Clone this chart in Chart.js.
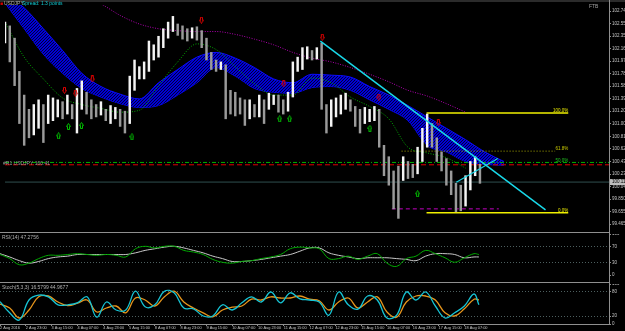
<!DOCTYPE html>
<html>
<head>
<meta charset="utf-8">
<title>USDJPY H1</title>
<script src="https://cdn.jsdelivr.net/npm/chart.js@4.4.1/dist/chart.umd.min.js"></script>
<style>
  body { margin: 0; background: #000; overflow: hidden; }
  #tela { position: relative; width: 625px; height: 331px; background: #000; }
  canvas { position: absolute; left: 0; }
  .linha { position: absolute; background: #8f8f8f; }
</style>
</head>
<body>
<div id="tela">
  <canvas id="main" width="625" height="232" style="top:0"></canvas>
  <canvas id="rsi" width="625" height="48" style="top:234px"></canvas>
  <canvas id="stoch" width="625" height="47" style="top:284px"></canvas>
  <div class="linha" style="left:0;top:232px;width:609px;height:1px"></div>
  <div class="linha" style="left:0;top:282px;width:609px;height:1px"></div>
  <div class="linha" style="left:609px;top:0;width:1px;height:325px"></div>
</div>
<script>
// eixos
var rotulosTempo = ["2 Aug 2016","2 Aug 23:00","3 Aug 15:00","4 Aug 07:00","4 Aug 23:00","5 Aug 15:00",
  "8 Aug 07:00","8 Aug 23:00","9 Aug 15:00","10 Aug 07:00","10 Aug 23:00","11 Aug 15:00",
  "12 Aug 07:00","12 Aug 23:00","15 Aug 15:00","16 Aug 07:00","16 Aug 23:00","17 Aug 15:00","18 Aug 07:00"];
var horaRotulos = [0,16,32,48,64,80,96,112,128,144,160,176,192,208,224,240,256,272,288];
var precosEixo = [99.465,99.655,99.850,100.040,100.235,100.430,100.620,100.815,101.005,101.200,
  101.390,101.585,101.780,101.970,102.165,102.355,102.550,102.740];
var niveisRsi = [0,30,70,100];
var niveisStoch = [0,20,80,100];

// barras de 3h (maxima / minima)
var maximas = [102.571,102.513,102.324,101.813,101.449,101.230,101.303,101.376,101.303,101.449,
 101.405,101.376,101.347,101.449,101.303,101.551,101.667,101.492,101.376,101.303,
 101.347,101.230,101.288,101.259,101.230,101.201,101.740,101.988,101.886,101.959,
 102.280,102.222,102.353,102.469,102.571,102.659,102.542,102.513,102.469,102.484,
 102.499,102.440,102.324,102.105,101.988,101.959,101.915,101.522,101.492,101.405,
 101.376,101.376,101.303,101.449,101.376,101.478,101.449,101.449,101.376,101.492,
 101.959,102.032,102.178,102.192,102.134,102.178,102.251,101.303,101.376,101.405,
 101.449,101.478,101.376,101.274,101.230,101.259,101.230,101.274,101.230,100.676,
 100.501,100.282,100.355,100.501,100.428,100.384,100.647,100.938,101.157,101.011,
 100.792,100.574,100.472,100.282,100.092,100.063,100.209,100.428,100.501,100.384];
var minimas = [102.251,101.959,101.594,101.011,100.676,100.792,100.836,100.938,100.719,101.011,
 101.055,101.113,101.084,101.157,101.084,100.865,101.230,101.157,101.084,101.113,
 101.142,101.055,101.011,101.084,100.967,100.865,101.011,101.522,101.697,101.697,
 101.813,101.988,102.032,102.178,102.324,102.426,102.367,102.309,102.280,102.324,
 102.294,102.178,101.988,101.842,101.813,101.842,101.084,101.157,101.128,101.157,
 100.982,101.084,101.113,101.113,101.011,101.230,101.303,101.186,101.157,101.201,
 101.419,101.813,101.842,102.003,101.988,102.003,101.230,100.865,100.967,101.113,
 101.157,101.230,101.201,100.967,100.865,101.011,101.040,101.055,100.647,100.209,
 100.063,99.699,99.553,100.136,100.165,100.180,100.238,100.428,100.647,100.647,
 100.428,100.282,100.063,99.917,99.655,99.669,99.742,99.990,100.209,100.092];

// indicadores do grafico principal (a cada 12h)
var horaInd = [0,12,24,36,48,60,72,84,96,108,120,132,144,156,168,180,192,204,216,228,240,252,264,276,288,300,312];
var nuvemA = [103.009,102.790,102.469,102.134,101.784,101.580,101.463,101.390,101.638,101.842,102.032,102.105,102.017,
  101.872,101.697,101.638,101.769,101.755,101.726,101.580,101.449,101.288,101.113,100.938,100.763,100.574,100.428];
var nuvemB = [102.863,102.469,102.076,101.784,101.551,101.419,101.317,101.259,101.288,101.449,101.638,101.872,101.740,
  101.551,101.492,101.478,101.565,101.580,101.522,101.376,101.230,101.055,100.676,100.574,100.428,100.384,100.370];
var mediaVerde = [102.571,102.032,101.697,101.405,101.303,101.244,101.186,101.215,101.594,101.959,102.236,102.149,101.886,
  101.624,101.449,101.449,101.711,101.638,101.419,101.274,101.084,100.647,100.559,100.486,100.326,null,null];
var mediaRoxa = [103.417,103.271,103.155,103.038,102.951,102.849,102.674,102.542,102.469,102.440,102.426,102.426,102.382,
  102.309,102.222,102.105,102.017,101.959,101.872,101.769,101.653,101.522,101.434,101.317,101.186,null,null];

// setas
var vendaHora = [37.2,44.0,54.6,122.8,174.3,198.4,233.8,271.0];
var vendaPreco = [101.522,101.478,101.697,102.601,101.624,102.338,101.419,101.026];
var compraHora = [33.5,39.7,47.8,79.4,171.8,178.0,228.2,258.0];
var compraPreco = [100.822,100.967,100.982,100.807,101.084,101.084,100.938,99.932];

// objetos desenhados
var tendencia1Hora = [197.2, 338.0], tendencia1Preco = [102.280, 99.684];
var tendencia2Hora = [282.2, 308.2], tendencia2Preco = [100.107, 100.472];
var fiboHora = [263.6, 352.2], fiboAlto = 101.172, fiboBaixo = 99.640;
var fibo618Hora = [248, 344];
var linhaVerde = 100.413, linhaVermelha = 100.377, precoAtual = 100.111;
var suporteHora = [241.9, 308.8], suportePreco = 99.699;

// osciladores (a cada 6h)
var horaOsc = [0,6,12,18,24,30,36,42,48,54,60,66,72,78,84,90,96,102,108,114,120,126,132,138,144,150,
  156,162,168,174,180,186,192,198,204,210,216,222,228,234,240,246,252,258,264,270,276,282,288,294,297];
var rsiLinha = [50,40,25,29,40,48,48,50,52,50,48,50,48,44,64,70,66,70,70,60,56,50,38,31,29,33,35,40,44,50,
  64,68,66,64,40,40,46,38,46,52,29,21,40,46,60,52,42,31,42,52,50];
var rsiMedia = [52,44,35,29,33,40,44,46,50,50,50,50,50,50,54,60,64,68,70,66,60,54,46,40,33,33,35,38,42,46,
  50,58,66,66,54,48,44,40,42,42,42,40,38,35,46,52,52,50,42,44,44];
var stochPrincipal = [56,28,10,60,72,68,48,48,53,68,17,55,35,35,82,43,48,82,78,40,38,20,20,48,35,53,68,55,80,53,
  78,63,60,55,22,80,48,37,70,60,15,22,80,60,80,45,15,28,45,75,48];
var stochSinal = [50,40,15,35,68,70,55,46,52,60,30,40,45,28,65,60,45,68,82,55,40,28,18,35,42,45,62,60,68,65,
  65,70,62,58,35,55,65,40,55,68,30,17,55,70,70,60,28,20,38,62,60];

var horasTotal = 377.7;

Chart.defaults.font.family = '"Liberation Sans", Arial, sans-serif';
Chart.defaults.font.size = 5;
Chart.defaults.color = '#c4c4c4';
Chart.defaults.animation = false;
Chart.defaults.plugins.legend.display = false;
Chart.defaults.plugins.tooltip.enabled = false;

function pares(xs, ys) {
  return xs.map(function (x, i) { return { x: x, y: ys[i] }; });
}

function seta(cor, baixo) {
  var c = document.createElement('canvas');
  c.width = 5; c.height = 7;
  var g = c.getContext('2d');
  var pts = [[1.5,0.5],[3.5,0.5],[3.5,3.5],[4.5,3.5],[2.5,6.5],[0.5,3.5],[1.5,3.5]];
  if (!baixo) pts = pts.map(function (p) { return [p[0], 7 - p[1]]; });
  g.strokeStyle = cor; g.lineWidth = 1;
  g.beginPath();
  pts.forEach(function (p, i) { if (i == 0) g.moveTo(p[0], p[1]); else g.lineTo(p[0], p[1]); });
  g.closePath(); g.stroke();
  return c;
}

// hachura azul da nuvem
function hachura(ctx) {
  var c = document.createElement('canvas');
  c.width = 3; c.height = 3;
  var g = c.getContext('2d');
  g.fillStyle = '#0000d8'; g.fillRect(0, 0, 3, 3);
  g.fillStyle = '#000038';
  g.fillRect(0, 2, 1, 1); g.fillRect(1, 1, 1, 1); g.fillRect(2, 0, 1, 1);
  return ctx.createPattern(c, 'repeat');
}

function camadaTexto(lista) {
  return {
    id: 'textos',
    afterDraw: function (chart) {
      var ctx = chart.ctx;
      ctx.save();
      ctx.font = '5px "Liberation Sans", Arial, sans-serif';
      ctx.textBaseline = 'top';
      lista.forEach(function (t) {
        ctx.fillStyle = t.cor; ctx.textAlign = t.alinha || 'left';
        ctx.fillText(t.texto, t.x, t.y);
      });
      ctx.restore();
    }
  };
}

function eixoX(mostra) {
  return {
    type: 'linear', min: 0, max: horasTotal, offset: false, display: mostra,
    afterFit: function (s) { s.height = 7; s.paddingLeft = 0; s.paddingRight = 0; },
    afterBuildTicks: function (s) { s.ticks = horaRotulos.map(function (v) { return { value: v }; }); },
    ticks: { autoSkip: false, maxRotation: 0, minRotation: 0, align: 'start', padding: 0,
      color: '#c4c4c4', font: { size: 3.9 },
      callback: function (v, i) { return rotulosTempo[i]; } },
    grid: { drawOnChartArea: false, tickLength: 2, color: '#8f8f8f' },
    border: { color: '#8f8f8f' }
  };
}

function eixoY(min, max, valores, fmt, pontilhadas) {
  return {
    position: 'right', min: min, max: max,
    afterFit: function (s) { s.width = 16; s.paddingTop = 0; s.paddingBottom = 0; },
    afterBuildTicks: function (s) { s.ticks = valores.map(function (v) { return { value: v }; }); },
    ticks: { autoSkip: false, padding: 1, color: '#c4c4c4', font: { size: 4.5 }, callback: fmt },
    grid: {
      drawOnChartArea: pontilhadas.length > 0, drawTicks: true, tickLength: 2,
      tickColor: '#8f8f8f', tickBorderDash: [],
      color: function (c) { return c.tick && pontilhadas.indexOf(c.tick.value) >= 0 ? '#4d5f5f' : 'rgba(0,0,0,0)'; }
    },
    border: { color: '#8f8f8f', dash: [1, 2] }
  };
}

// grafico principal
var ctxMain = document.getElementById('main').getContext('2d');
var fiboNiveis = [100, 61.8, 50, 0];
var fiboCores = ['#e8e800', '#c8c800', '#20c020', '#e8e800'];

var notasMain = {
  id: 'notas',
  beforeDraw: function (chart) {
    chart.ctx.fillStyle = '#2b2b2b';
    chart.ctx.fillRect(0, 0, 625, 2);
  },
  afterDraw: function (chart) {
    var ctx = chart.ctx, x = chart.scales.x, y = chart.scales.y, area = chart.chartArea;
    ctx.save();
    ctx.font = '4.5px "Liberation Sans", Arial, sans-serif';
    ctx.textAlign = 'right'; ctx.textBaseline = 'bottom';
    fiboNiveis.forEach(function (n, i) {
      var p = fiboBaixo + (fiboAlto - fiboBaixo) * n / 100;
      ctx.fillStyle = fiboCores[i];
      ctx.fillText(n.toFixed(1) + '%', x.getPixelForValue(fiboHora[1]), y.getPixelForValue(p));
    });
    var py = y.getPixelForValue(precoAtual);
    ctx.fillStyle = '#bdbdbd';
    ctx.fillRect(area.right + 1, py - 3, 16, 6);
    ctx.fillStyle = '#000';
    ctx.textAlign = 'left'; ctx.textBaseline = 'middle';
    ctx.fillText(precoAtual.toFixed(3), area.right + 3, py);
    ctx.restore();
  }
};

new Chart(ctxMain, {
  type: 'bar',
  data: {
    datasets: [
      { type: 'line', label: 'venda', data: pares(vendaHora, vendaPreco), showLine: false,
        pointStyle: seta('#e00000', true), pointRadius: 3, order: 0 },
      { type: 'line', label: 'compra', data: pares(compraHora, compraPreco), showLine: false,
        pointStyle: seta('#00c000', false), pointRadius: 3, order: 0 },
      { type: 'line', label: 'tendencia', data: pares(tendencia1Hora, tendencia1Preco),
        borderColor: '#19d8e8', borderWidth: 1.5, pointRadius: 0, order: 1 },
      { type: 'line', label: 'tendencia2', data: pares(tendencia2Hora, tendencia2Preco),
        borderColor: '#19d8e8', borderWidth: 1.2, pointRadius: 0, order: 1 },
      { type: 'bar', label: 'USDJPY',
        data: maximas.map(function (v, i) { return { x: i * 3, y: [minimas[i], v] }; }),
        backgroundColor: function (c) {
          var i = c.dataIndex;
          return (i > 0 && maximas[i] + minimas[i] < maximas[i - 1] + minimas[i - 1]) ? '#9a9a9a' : '#f4f4f4';
        },
        barThickness: 1.8, grouped: false, order: 2 },
      { type: 'line', label: 'media verde', data: pares(horaInd, mediaVerde), borderColor: '#00a800',
        borderWidth: 1, borderDash: [1, 1.5], pointRadius: 0, cubicInterpolationMode: 'monotone', order: 3 },
      { type: 'line', label: 'media roxa', data: pares(horaInd, mediaRoxa), borderColor: '#b000b0',
        borderWidth: 1, borderDash: [1, 1.5], pointRadius: 0, cubicInterpolationMode: 'monotone', order: 3 },
      { type: 'line', label: 'fibo 100', data: pares(fiboHora, [fiboAlto, fiboAlto]), borderColor: '#f0f000',
        borderWidth: 1.5, pointRadius: 0, order: 4 },
      { type: 'line', label: 'fibo 0', data: pares(fiboHora, [fiboBaixo, fiboBaixo]), borderColor: '#f0f000',
        borderWidth: 1.5, pointRadius: 0, order: 4 },
      { type: 'line', label: 'fibo 61.8', data: pares(fibo618Hora, [fiboBaixo + (fiboAlto - fiboBaixo) * 0.618, fiboBaixo + (fiboAlto - fiboBaixo) * 0.618]),
        borderColor: '#a8a800', borderWidth: 1, borderDash: [1, 2], pointRadius: 0, order: 4 },
      { type: 'line', label: 'suporte', data: pares(suporteHora, [suportePreco, suportePreco]), borderColor: '#c000c0',
        borderWidth: 1, borderDash: [4, 3], pointRadius: 0, order: 4 },
      { type: 'line', label: 'nivel verde', data: pares([0, horasTotal], [linhaVerde, linhaVerde]), borderColor: '#00b000',
        borderWidth: 1, borderDash: [4, 2, 1, 2], pointRadius: 0, order: 5 },
      { type: 'line', label: 'nivel vermelho', data: pares([0, horasTotal], [linhaVermelha, linhaVermelha]), borderColor: '#e00000',
        borderWidth: 1, borderDash: [5, 3], pointRadius: 0, order: 5 },
      { type: 'line', label: 'bid', data: pares([0, horasTotal], [precoAtual, precoAtual]), borderColor: '#2f4f4f',
        borderWidth: 1, pointRadius: 0, order: 5 },
      { type: 'line', label: 'nuvem A', data: pares(horaInd, nuvemA), borderColor: '#0c0cff', borderWidth: 1,
        pointRadius: 0, cubicInterpolationMode: 'monotone', fill: '+1', backgroundColor: hachura(ctxMain), order: 6 },
      { type: 'line', label: 'nuvem B', data: pares(horaInd, nuvemB), borderColor: '#0c0cff', borderWidth: 1,
        pointRadius: 0, cubicInterpolationMode: 'monotone', order: 6 }
    ]
  },
  options: {
    responsive: false,
    layout: { padding: 0 },
    scales: {
      x: eixoX(false),
      y: eixoY(99.451, 102.834, precosEixo, function (v) { return v.toFixed(3); }, [])
    }
  },
  plugins: [notasMain, camadaTexto([
    { texto: '\u25A0', x: 0, y: 1, cor: '#d00000' },
    { texto: 'USDJPY', x: 4, y: 1.5, cor: '#b0b0b0' },
    { texto: 'Spread: 1.3 points', x: 22, y: 1.5, cor: '#10c8d0' },
    { texto: 'FTB', x: 589, y: 4, cor: '#a0a0a0' },
    { texto: '#R1 USDJPY 100.41', x: 3, y: 161, cor: '#9a9a9a' }
  ])]
});

// RSI
new Chart(document.getElementById('rsi'), {
  type: 'line',
  data: {
    datasets: [
      { data: pares(horaOsc, rsiLinha), borderColor: '#00a800', borderWidth: 1, pointRadius: 0, tension: 0.4 },
      { data: pares(horaOsc, rsiMedia), borderColor: '#c8c8c8', borderWidth: 1, pointRadius: 0, tension: 0.4 }
    ]
  },
  options: {
    responsive: false,
    layout: { padding: 0 },
    scales: {
      x: eixoX(false),
      y: eixoY(0, 100, niveisRsi, function (v) { return String(v); }, [30, 70])
    }
  },
  plugins: [camadaTexto([{ texto: 'RSI(14) 47.2756', x: 2, y: 1, cor: '#b0b0b0' }])]
});

// Stochastic
new Chart(document.getElementById('stoch'), {
  type: 'line',
  data: {
    datasets: [
      { data: pares(horaOsc, stochPrincipal), borderColor: '#16c4d4', borderWidth: 1.3, pointRadius: 0, tension: 0.4 },
      { data: pares(horaOsc, stochSinal), borderColor: '#e8961c', borderWidth: 1.3, pointRadius: 0, tension: 0.4 }
    ]
  },
  options: {
    responsive: false,
    layout: { padding: 0 },
    scales: {
      x: eixoX(true),
      y: eixoY(0, 100, niveisStoch, function (v) { return String(v); }, [20, 80])
    }
  },
  plugins: [camadaTexto([{ texto: 'Stoch(5,3,3) 16.5799 44.9677', x: 2, y: 1, cor: '#b0b0b0' }])]
});
</script>
</body>
</html>
